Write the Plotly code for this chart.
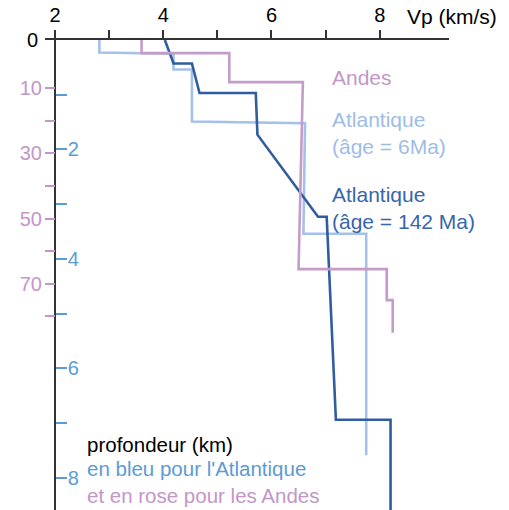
import plotly.graph_objects as go

# ---- data ----
vp_ticks = [2, 3, 4, 5, 6, 7, 8]
vp_labels = ['2', '', '4', '', '6', '', '8']
atl_depth_ticks = [1, 2, 3, 4, 5, 6, 7, 8]
atl_depth_labels = ['', '2', '', '4', '', '6', '', '8']
andes_depth_ticks = [10, 20, 30, 40, 50, 60, 70, 80]
andes_depth_labels = ['10', '', '30', '', '50', '', '70', '']

# Atlantique, age = 6 Ma (depth in km, blue scale)
atl6_vp = [2.82, 2.82, 4.19, 4.19, 4.53, 4.53, 6.62, 6.59, 7.75, 7.75]
atl6_depth = [0.0, 0.23, 0.25, 0.54, 0.54, 1.49, 1.52, 3.54, 3.54, 7.59]

# Atlantique, age = 142 Ma (depth in km, blue scale)
atl142_vp = [4.03, 4.19, 4.53, 4.67, 5.71, 5.74, 6.86, 7.02, 7.19, 8.20, 8.20]
atl142_depth = [0.0, 0.43, 0.43, 0.97, 0.97, 1.73, 3.23, 3.23, 6.94, 6.94, 8.6]

# Andes (depth in km, pink scale)
andes_vp = [3.60, 3.60, 5.22, 5.22, 6.58, 6.50, 8.13, 8.13, 8.24, 8.24]
andes_depth = [-4.7, -0.7, -0.7, 8.2, 8.2, 65.5, 65.5, 75.0, 75.0, 85.0]

# ---- styles ----
FONT = "Liberation Sans, Arial, sans-serif"
C_LIGHT = "#a4c1e7"
C_DARK = "#2f5d9f"
C_PINK = "#c49cc9"
C_BLUE_TXT = "#5b9bd6"
C_PINK_TXT = "#c396c8"
C_AXIS = "#333333"

fig = go.Figure()
fig.add_trace(go.Scatter(x=andes_vp, y=andes_depth, mode="lines", yaxis="y2",
                         line=dict(color=C_PINK, width=2.6), showlegend=False,
                         hoverinfo="skip"))
fig.add_trace(go.Scatter(x=atl6_vp, y=atl6_depth, mode="lines", yaxis="y",
                         line=dict(color=C_LIGHT, width=2.6), showlegend=False,
                         hoverinfo="skip"))
fig.add_trace(go.Scatter(x=atl142_vp, y=atl142_depth, mode="lines", yaxis="y",
                         line=dict(color=C_DARK, width=2.6), showlegend=False,
                         hoverinfo="skip"))

axis_pos = (55 - 45) / 404

fig.update_layout(
    width=509, height=510,
    margin=dict(l=45, r=60, t=40, b=0),
    plot_bgcolor="white", paper_bgcolor="white",
    font=dict(family=FONT, size=20, color="black"),
    xaxis=dict(side="top", range=[1.815, 9.28], showgrid=False, zeroline=False,
               showline=True, linecolor=C_AXIS, linewidth=1.5,
               ticks="outside", ticklen=8, tickwidth=1.5, tickcolor=C_AXIS,
               tickvals=vp_ticks, ticktext=vp_labels,
               tickfont=dict(size=20, color="black")),
    yaxis=dict(range=[8.59, 0], anchor="free", position=axis_pos, side="right",
               showgrid=False, zeroline=False,
               showline=True, linecolor=C_AXIS, linewidth=1.5,
               ticks="outside", ticklen=11, tickwidth=2, tickcolor=C_BLUE_TXT,
               tickvals=atl_depth_ticks, ticktext=atl_depth_labels,
               ticklabelstandoff=-3,
               tickfont=dict(size=20, color=C_BLUE_TXT)),
    yaxis2=dict(range=[139.3, -4.72], overlaying="y", anchor="free",
                position=axis_pos, side="left",
                showgrid=False, zeroline=False, showline=False,
                ticks="outside", ticklen=10, tickwidth=2, tickcolor=C_PINK_TXT,
                tickvals=andes_depth_ticks, ticktext=andes_depth_labels,
                ticklabelstandoff=-1,
                tickfont=dict(size=20, color=C_PINK_TXT)),
)

ann = [
    dict(text="0", x=-0.0136, xref="paper", y=0, yref="y", xanchor="right",
         yanchor="middle", font=dict(size=20, color="black")),
    dict(text="Vp (km/s)", x=8.467, xref="x", y=1.049, yref="paper",
         xanchor="left", yanchor="middle", font=dict(size=21, color="black")),
    dict(text="Andes", x=7.08, xref="x", y=0.69, yref="y", xanchor="left",
         yanchor="middle", font=dict(size=21, color=C_PINK_TXT)),
    dict(text="Atlantique<br>(âge = 6Ma)", x=7.08, xref="x", y=1.70, yref="y",
         xanchor="left", yanchor="middle", align="left",
         font=dict(size=21, color="#9ebde6")),
    dict(text="Atlantique<br>(âge = 142 Ma)", x=7.08, xref="x", y=3.07, yref="y",
         xanchor="left", yanchor="middle", align="left",
         font=dict(size=21, color="#3766ab")),
    dict(text="profondeur (km)", x=2.55, xref="x", y=7.39, yref="y",
         xanchor="left", yanchor="middle", font=dict(size=20.5, color="black")),
    dict(text="en bleu pour l'Atlantique", x=2.55, xref="x", y=7.84, yref="y",
         xanchor="left", yanchor="middle", font=dict(size=20.5, color=C_BLUE_TXT)),
    dict(text="et en rose pour les Andes", x=2.55, xref="x", y=8.33, yref="y",
         xanchor="left", yanchor="middle", font=dict(size=20.5, color=C_PINK_TXT)),
]
for a in ann:
    a["showarrow"] = False
    fig.add_annotation(**a)

fig.write_html("out.html", config={"displayModeBar": False},
               post_script="document.body.style.margin='0';")
